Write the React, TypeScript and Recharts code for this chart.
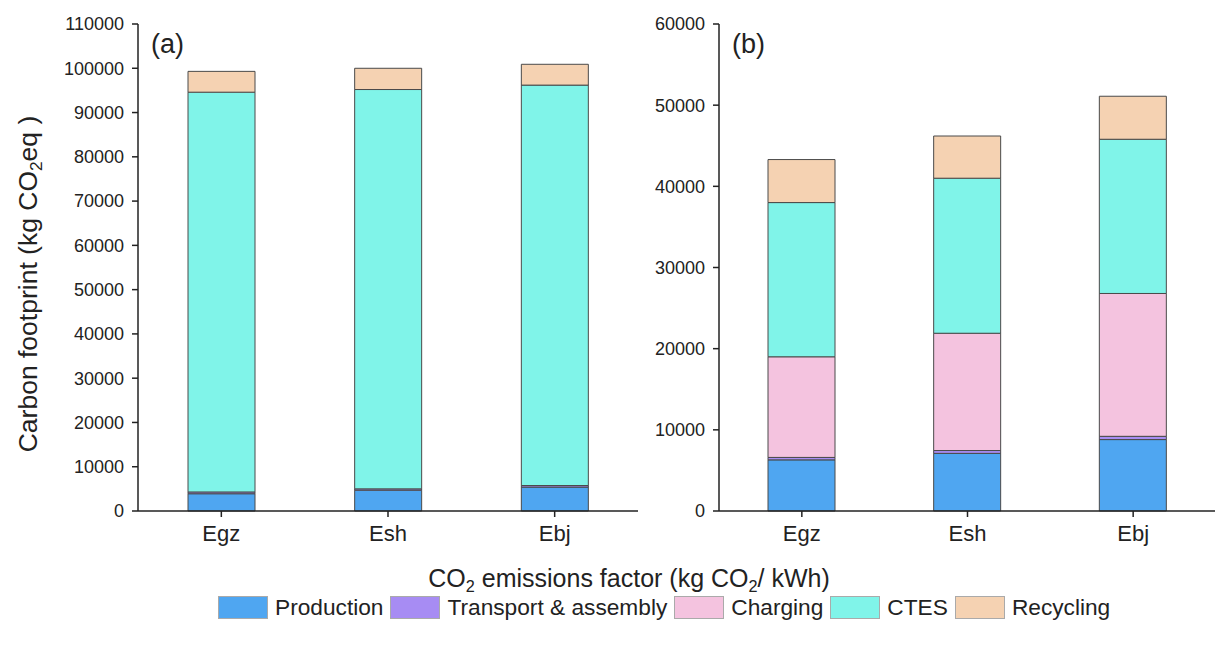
import React from 'react';
import { BarChart, Bar, XAxis, YAxis } from 'recharts';

const categories = ['Egz', 'Esh', 'Ebj'];

// panel (a)
const productionA = [3900, 4700, 5400];
const transportA = [400, 300, 350];
const ctesA = [90300, 90200, 90450];
const recyclingA = [4700, 4800, 4700];
const ticksA = [0, 10000, 20000, 30000, 40000, 50000, 60000, 70000, 80000, 90000, 100000, 110000];

// panel (b)
const productionB = [6300, 7100, 8800];
const transportB = [300, 350, 400];
const chargingB = [12400, 14450, 17600];
const ctesB = [19000, 19100, 19000];
const recyclingB = [5300, 5200, 5300];
const ticksB = [0, 10000, 20000, 30000, 40000, 50000, 60000];

const legendItems = ['Production', 'Transport & assembly', 'Charging', 'CTES', 'Recycling'];

const colors: Record<string, string> = {
  Production: '#4fa6f1',
  'Transport & assembly': '#a78cf3',
  Charging: '#f4c3df',
  CTES: '#80f4e9',
  Recycling: '#f5d2b2',
};

const dataA = categories.map((name, i) => ({
  name,
  Production: productionA[i],
  'Transport & assembly': transportA[i],
  CTES: ctesA[i],
  Recycling: recyclingA[i],
}));

const dataB = categories.map((name, i) => ({
  name,
  Production: productionB[i],
  'Transport & assembly': transportB[i],
  Charging: chargingB[i],
  CTES: ctesB[i],
  Recycling: recyclingB[i],
}));

const font = 'Arial, "Liberation Sans", Helvetica, sans-serif';
const yTick = { fill: '#222', fontSize: 18, fontFamily: font };
const xTick = { fill: '#222', fontSize: 22, fontFamily: font };
const axisStroke = { stroke: '#222', strokeWidth: 1.5 };
const sub = { fontSize: '0.65em', verticalAlign: '-0.3em', lineHeight: 0 };

function Panel({ data, keys, ticks, max, yWidth, width, right }: any) {
  return (
    <BarChart
      width={width}
      height={560}
      data={data}
      margin={{ top: 24, right, left: 0, bottom: 9 }}
      barSize={67}
    >
      <XAxis
        dataKey="name"
        height={40}
        tick={xTick}
        tickSize={6}
        tickMargin={8}
        axisLine={axisStroke}
        tickLine={axisStroke}
      />
      <YAxis
        width={yWidth}
        domain={[0, max]}
        ticks={ticks}
        interval={0}
        tick={yTick}
        tickSize={6}
        tickMargin={8}
        axisLine={axisStroke}
        tickLine={axisStroke}
      />
      {keys.map((k: string) => (
        <Bar
          key={k}
          dataKey={k}
          stackId="s"
          fill={colors[k]}
          stroke="#4a4a4a"
          strokeWidth={1}
          isAnimationActive={false}
        />
      ))}
    </BarChart>
  );
}

export default function App() {
  return (
    <div
      style={{
        position: 'absolute',
        left: 0,
        top: 0,
        width: 1215,
        height: 646,
        background: '#fff',
        fontFamily: font,
        color: '#222',
        overflow: 'hidden',
      }}
    >
      <div style={{ position: 'absolute', left: 0, top: 0 }}>
        <Panel
          data={dataA}
          keys={['Production', 'Transport & assembly', 'CTES', 'Recycling']}
          ticks={ticksA}
          max={110000}
          yWidth={138}
          width={650}
          right={12}
        />
      </div>
      <div style={{ position: 'absolute', left: 650, top: 0 }}>
        <Panel
          data={dataB}
          keys={['Production', 'Transport & assembly', 'Charging', 'CTES', 'Recycling']}
          ticks={ticksB}
          max={60000}
          yWidth={69}
          width={566}
          right={0}
        />
      </div>

      <div style={{ position: 'absolute', left: 151, top: 28, fontSize: 27, lineHeight: '32px' }}>(a)</div>
      <div style={{ position: 'absolute', left: 732, top: 28, fontSize: 27, lineHeight: '32px' }}>(b)</div>

      <div
        style={{
          position: 'absolute',
          left: 28,
          top: 284,
          transform: 'translate(-50%, -50%) rotate(-90deg)',
          whiteSpace: 'nowrap',
          fontSize: 26.5,
          lineHeight: '30px',
        }}
      >
        Carbon footprint (kg CO<sub style={sub}>2</sub>eq )
      </div>

      <div
        style={{
          position: 'absolute',
          left: 629,
          top: 578,
          transform: 'translate(-50%, -50%)',
          whiteSpace: 'nowrap',
          fontSize: 25,
          lineHeight: '28px',
        }}
      >
        CO<sub style={sub}>2</sub> emissions factor (kg CO<sub style={sub}>2</sub>/ kWh)
      </div>

      <div
        style={{
          position: 'absolute',
          left: 218,
          top: 595,
          display: 'flex',
          alignItems: 'center',
          whiteSpace: 'nowrap',
          fontSize: 22.7,
          lineHeight: '24px',
        }}
      >
        {legendItems.map((k) => (
          <div key={k} style={{ display: 'flex', alignItems: 'center', marginRight: 7 }}>
            <div
              style={{
                width: 50,
                height: 23,
                background: colors[k],
                border: '1px solid #aaa',
                boxSizing: 'border-box',
                marginRight: 7,
              }}
            />
            <span>{k}</span>
          </div>
        ))}
      </div>
    </div>
  );
}
